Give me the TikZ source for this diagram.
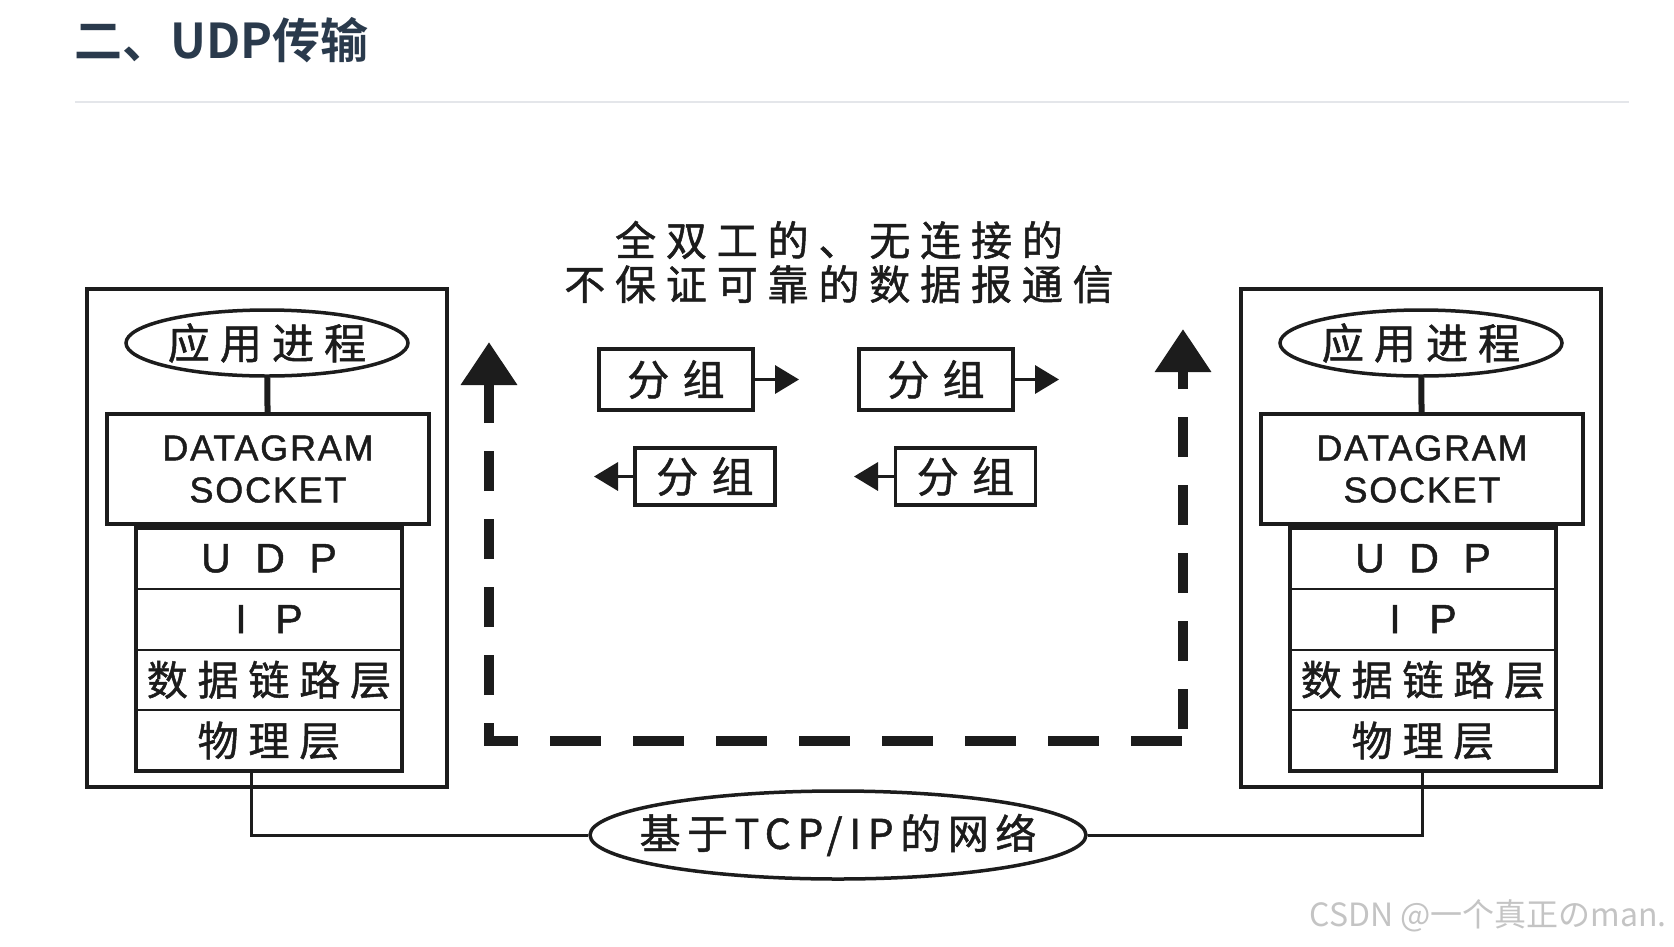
\documentclass[tikz,border=0pt]{standalone}
\usepackage{fontspec}
\usepackage{xcolor}
\usetikzlibrary{arrows.meta,shapes.geometric}

\setmainfont{Noto Sans CJK SC}
\newfontfamily\cjkfont{Noto Sans CJK SC}
\newfontfamily\cjkwide[LetterSpace=24,FakeBold=1.2]{Noto Sans CJK SC}
\newfontfamily\cjkpkt[LetterSpace=32,FakeBold=1.2]{Noto Sans CJK SC}
\newfontfamily\cjknet[LetterSpace=16,FakeBold=1.2]{Noto Sans CJK SC}
\newfontfamily\titlefont{Noto Sans CJK SC Bold}
\newfontfamily\latinfont[LetterSpace=5,FakeBold=1.2]{Liberation Sans}

\definecolor{ink}{HTML}{1C1C1C}
\definecolor{headblue}{HTML}{2A3A4C}
\definecolor{rulegray}{HTML}{E4E6EA}
\definecolor{markgray}{HTML}{C4C4C4}

\tikzset{
    host/.style={draw=ink, line width=4pt, minimum width=360pt, minimum height=498pt, inner sep=0pt, outer sep=0pt},
    proc/.style={ellipse, draw=ink, line width=3.5pt, minimum width=282pt, minimum height=66pt, inner sep=0pt,
        text=ink, font=\cjkwide\fontsize{42}{48}\selectfont},
    sock/.style={draw=ink, line width=4.5pt, minimum width=322pt, minimum height=110pt, inner sep=0pt, outer sep=0pt,
        align=center, text=ink, font=\latinfont\fontsize{36}{42}\selectfont},
    layer/.style={draw=ink, line width=2pt, minimum width=266pt, minimum height=60.75pt, inner sep=0pt, outer sep=0pt,
        text=ink, font=\cjkwide\fontsize{41}{46}\selectfont},
    pkt/.style={draw=ink, line width=3.5pt, minimum width=154pt, minimum height=61pt, inner sep=0pt,
        text=ink, font=\cjkpkt\fontsize{42}{46}\selectfont},
    flow/.style={draw=ink, line width=3.5pt, -{Triangle[length=24pt,width=28pt]}},
    dashline/.style={draw=ink, line width=10pt},
    bigtip/.style={-{Triangle[length=43pt,width=54pt]}},
}

\begin{document}
\begin{tikzpicture}[x=1pt,y=-1pt]
    % Page
    \fill[white] (0,0) rectangle (1674,946);
    \useasboundingbox (0,0) rectangle (1674,946);

    % Heading
    \node[anchor=west, inner sep=0pt, text=headblue, font=\titlefont\fontsize{48}{54}\selectfont] (title) at (74,40) {二、UDP传输};
    \draw[rulegray, line width=2pt] (75,102) -- (1629,102);

    % Network
    \node[ellipse, draw=ink, line width=3.5pt, minimum width=496pt, minimum height=88pt, inner xsep=-30pt, inner ysep=0pt,
        text=ink, font=\cjknet\fontsize{41}{46}\selectfont] (net) at (838,835) {基于TCP/IP的网络};

    % Both hosts
    \foreach \s/\cx/\dx/\side in {L/267/-18/west, R/1421/-1/east} {
        \node[host] (\s-host) at (\cx,538) {};
        \node[proc] (\s-proc) at (\cx,343) {应用进程};
        \node[sock] (\s-sock) at (\cx+1,469) {DATAGRAM\\SOCKET};
        \foreach \i/\t in {1/{\latinfont U\hspace{.6em}D\hspace{.6em}P}, 2/{\latinfont I\hspace{.7em}P}, 3/数据链路层, 4/物理层} {
            \node[layer] (\s-l\i) at (\cx+2,{528+60.75*(\i-0.5)}) {\t};
        }
        \draw[ink, line width=4pt] (\s-l1.north west) rectangle (\s-l4.south east);
        \draw[ink, line width=6pt] (\s-proc) -- (\s-sock);
        \draw[ink, line width=3pt] ([xshift=\dx pt]\s-l4.south) |- (net.\side);
    }

    % Caption
    \node[align=center, inner sep=0pt, text=ink, font=\cjkwide\fontsize{41}{44}\selectfont] (caption) at (839,262)
        {全双工的、无连接的\\不保证可靠的数据报通信};

    % Packets
    \node[pkt] (p1) at (676,379.5) {分组};
    \node[pkt] (p2) at (936,379.5) {分组};
    \node[pkt, minimum width=140pt, minimum height=57pt] (p3) at (705,476.5) {分组};
    \node[pkt, minimum width=140pt, minimum height=57pt] (p4) at (965.5,476.5) {分组};
    \coordinate (p1-to) at (799,379.5);
    \coordinate (p2-to) at (1059,379.5);
    \coordinate (p3-to) at (594,476.5);
    \coordinate (p4-to) at (854,476.5);
    \foreach \p in {p1,p2,p3,p4}
        \draw[flow] (\p) -- (\p-to);

    % Datagram path
    \coordinate (cornerL) at (489,741);
    \coordinate (cornerR) at (1183,741);
    \coordinate (tipL) at (489,342);
    \coordinate (tipR) at (1183,329);
    \draw[dashline, bigtip, dash pattern=on 40pt off 28pt, dash phase=22pt] (cornerL) -- (tipL);
    \draw[dashline, dash pattern=on 51pt off 32pt, dash phase=17pt] ([xshift=-5pt]cornerL) -- (cornerR);
    \draw[dashline, bigtip, dash pattern=on 40pt off 28pt, dash phase=56pt] (cornerR) -- (tipR);

    % Watermark
    \node[anchor=east, inner sep=0pt, text=markgray, font=\cjkfont\fontsize{32}{36}\selectfont] (mark) at (1667,916) {CSDN @一个真正のman.};
\end{tikzpicture}
\end{document}
